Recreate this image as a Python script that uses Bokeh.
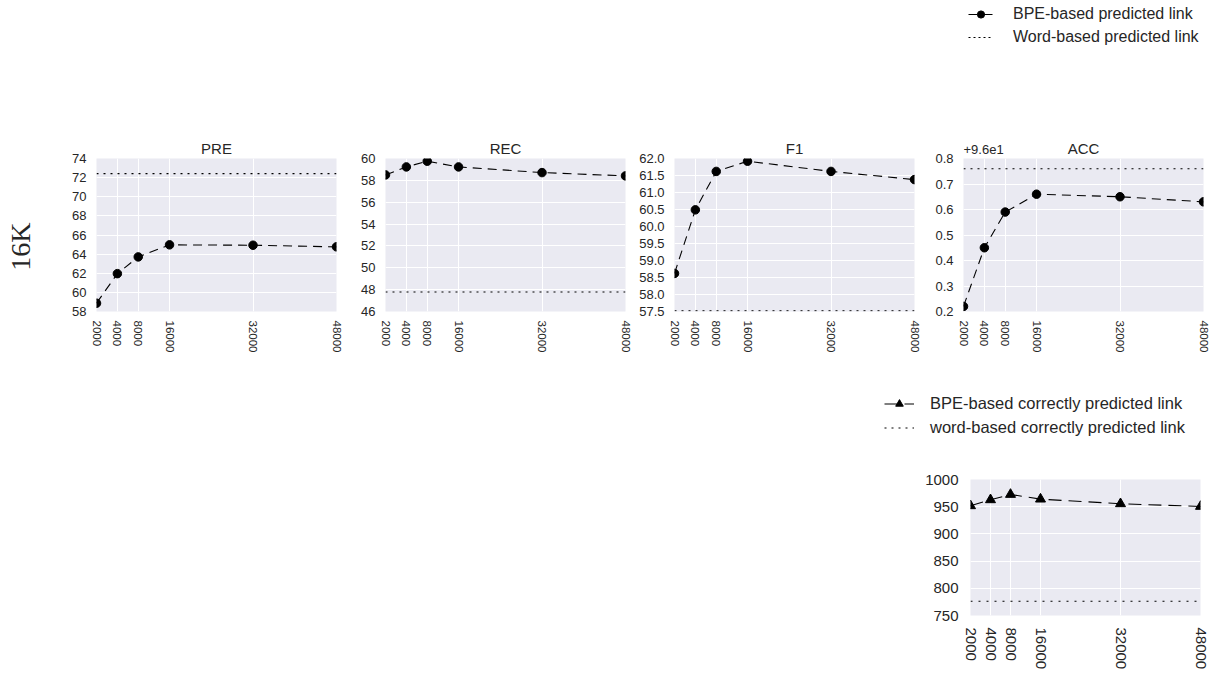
from bokeh.plotting import figure
from bokeh.layouts import column, row, Spacer
from bokeh.models import (Range1d, FixedTicker, CustomJSTickFormatter, Span, Label,
                          Legend, LegendItem)
from bokeh.embed import file_html
from bokeh.resources import INLINE

# ---------------- data ----------------
vocab_sizes = [2000, 4000, 8000, 16000, 32000, 48000]
x_pos = [1, 2, 3, 4.5, 8.5, 12.5]          # position of each vocab size on the x axis

pre_bpe = [58.87, 61.96, 63.71, 64.97, 64.93, 64.76]
pre_word = 72.42
rec_bpe = [58.50, 59.23, 59.75, 59.23, 58.71, 58.41]
rec_word = 47.78
f1_bpe = [58.62, 60.49, 61.62, 61.92, 61.62, 61.38]
f1_word = 57.52
acc_bpe = [96.22, 96.45, 96.59, 96.66, 96.65, 96.63]
acc_word = 96.76
acc_offset = 96
acc_offset_text = "+9.6e1"
links_bpe = [951.7, 962.7, 972.5, 963.9, 955.4, 950.5]
links_word = 776.3

metric_titles = ["PRE", "REC", "F1", "ACC"]
metric_bpe = [pre_bpe, rec_bpe, f1_bpe, acc_bpe]
metric_word = [pre_word, rec_word, f1_word, acc_word]
y_limits = [(58, 74), (46, 60), (57.5, 62.0), (96.2, 96.8)]
y_ticks = [
    [58, 60, 62, 64, 66, 68, 70, 72, 74],
    [46, 48, 50, 52, 54, 56, 58, 60],
    [57.5, 58.0, 58.5, 59.0, 59.5, 60.0, 60.5, 61.0, 61.5, 62.0],
    [96.2, 96.3, 96.4, 96.5, 96.6, 96.7, 96.8],
]
links_limits = (750, 1000)
links_ticks = [750, 800, 850, 900, 950, 1000]

legend_top = ["BPE-based predicted link", "Word-based predicted link"]
legend_bottom = ["BPE-based correctly predicted link", "word-based correctly predicted link"]
row_label = "16K"

# ---------------- style ----------------
BG = "#EAEAF2"
TXT = "#262626"
FONT = "Liberation Sans"
NAN = float("nan")
x_labels = {xp: str(v) for xp, v in zip(x_pos, vocab_sizes)}


def blank_fig(width, height, xr, yr, left=0, right=0):
    p = figure(width=width, height=height, x_range=xr, y_range=yr,
               x_axis_location=None, y_axis_location=None, toolbar_location=None,
               output_backend="svg", min_border_left=left, min_border_right=right,
               min_border_top=0, min_border_bottom=0, outline_line_color=None,
               background_fill_color=None, border_fill_color=None, title=None)
    p.xgrid.visible = False
    p.ygrid.visible = False
    return p


def style_axes(p, tick_size, x_standoff, y_standoff):
    for ax in (p.xaxis[0], p.yaxis[0]):
        ax.axis_line_color = None
        ax.major_tick_line_color = None
        ax.minor_tick_line_color = None
        ax.major_tick_out = 0
        ax.major_tick_in = 0
        ax.major_label_text_color = TXT
        ax.major_label_text_font = FONT
    p.xaxis[0].major_label_text_font_size = tick_size[0]
    p.yaxis[0].major_label_text_font_size = tick_size[1]
    p.xaxis[0].major_label_standoff = x_standoff
    p.yaxis[0].major_label_standoff = y_standoff
    p.xaxis[0].ticker = FixedTicker(ticks=x_pos)
    p.xaxis[0].major_label_overrides = x_labels
    p.xaxis[0].major_label_orientation = "vertical"
    p.xgrid.grid_line_color = "white"
    p.ygrid.grid_line_color = "white"
    p.xgrid.grid_line_width = 1
    p.ygrid.grid_line_width = 1


def metric_fig(i, width, height, left, right, top, with_title=True, **extra):
    lo, hi = y_limits[i]
    p = figure(width=width, height=height,
               x_range=Range1d(x_pos[0], x_pos[-1]), y_range=Range1d(lo, hi),
               output_backend="svg", toolbar_location=None,
               min_border_left=left, min_border_right=right,
               min_border_top=top, min_border_bottom=54,
               background_fill_color=BG,
               outline_line_color=None,
               title=metric_titles[i] if with_title else None, **extra)
    if with_title:
        p.title.align = "center"
        p.title.text_font = FONT
        p.title.text_font_size = "15px"
        p.title.text_font_style = "normal"
        p.title.text_color = TXT
        p.title.standoff = 3
    style_axes(p, ("11.5px", "13px"), 9, 10)
    p.yaxis[0].ticker = FixedTicker(ticks=y_ticks[i])
    if i == 2:
        p.yaxis[0].formatter = CustomJSTickFormatter(code="return tick.toFixed(1)")
    if i == 3:
        p.yaxis[0].formatter = CustomJSTickFormatter(
            args=dict(off=acc_offset), code="return (tick - off).toFixed(1)")
    p.add_layout(Span(location=metric_word[i], dimension="width",
                      line_color="black", line_width=1.1, line_dash="2 5"))
    p.line(x_pos, metric_bpe[i], line_color="black", line_width=1.1, line_dash="9 6")
    p.scatter(x_pos, metric_bpe[i], marker="circle", size=8.5,
              fill_color="black", line_color="black")
    return p


# row label "16K" (panel coordinates in pixels)
f_lab = blank_fig(44, 229, Range1d(0, 44), Range1d(0, 229))
f_lab.add_layout(Label(x=20, y=97, text=row_label, angle=90, angle_units="deg",
                       text_align="center", text_baseline="middle",
                       text_font="Liberation Serif", text_font_size="28px",
                       text_color=TXT))

f_pre = metric_fig(0, 300, 229, 52, 8, 22, border_fill_color="white")
f_rec = metric_fig(1, 289, 229, 41, 8, 22, border_fill_color="white")
f_f1 = metric_fig(2, 289, 229, 41, 8, 22, border_fill_color="white")
# ACC panel overlaps its heading strip slightly (transparent border) so that
# neither the top tick label nor the heading texts are cut
f_acc = metric_fig(3, 289, 216, 41, 8, 9, with_title=False,
                   border_fill_color=None, margin=(-9, 0, 0, 0))

# ACC heading strip with the axis offset text (panel coordinates in pixels)
acc_head = blank_fig(289, 22, Range1d(0, 240), Range1d(0, 22), left=41, right=8)
acc_head.add_layout(Label(x=120, y=10.5, text=metric_titles[3], text_align="center",
                          text_baseline="middle", text_font=FONT,
                          text_font_size="15px", text_color=TXT))
acc_head.add_layout(Label(x=0, y=9.5, text=acc_offset_text, text_align="left",
                          text_baseline="middle", text_font=FONT,
                          text_font_size="13px", text_color=TXT))

# ---------------- top legend ----------------
leg1 = blank_fig(1211, 136, Range1d(0, 1), Range1d(0, 1))
l1 = leg1.line(x=[NAN], y=[NAN], line_color="black", line_width=1.1, line_dash="9 6")
s1 = leg1.scatter(x=[NAN], y=[NAN], marker="circle", size=8.5,
                  fill_color="black", line_color="black")
l2 = leg1.line(x=[NAN], y=[NAN], line_color="black", line_width=1.1, line_dash="2 3")
lg1 = Legend(items=[LegendItem(label=legend_top[0], renderers=[l1, s1]),
                    LegendItem(label=legend_top[1], renderers=[l2])],
             location=(968, 90), orientation="vertical",
             label_text_font=FONT, label_text_font_size="16px", label_text_color=TXT,
             glyph_width=25, glyph_height=18, label_height=18, label_standoff=20,
             spacing=5, padding=0, margin=0, border_line_color=None,
             background_fill_alpha=0)
leg1.add_layout(lg1)

# ---------------- bottom legend ----------------
leg2 = blank_fig(1211, 90, Range1d(0, 1), Range1d(0, 1))
l3 = leg2.line(x=[NAN], y=[NAN], line_color="black", line_width=1.1, line_dash="13 7")
s3 = leg2.scatter(x=[NAN], y=[NAN], marker="triangle", size=10,
                  fill_color="black", line_color="black")
l4 = leg2.line(x=[NAN], y=[NAN], line_color="black", line_width=1.1, line_dash="2 5")
lg2 = Legend(items=[LegendItem(label=legend_bottom[0], renderers=[l3, s3]),
                    LegendItem(label=legend_bottom[1], renderers=[l4])],
             location=(884, 18.5), orientation="vertical",
             label_text_font=FONT, label_text_font_size="16.5px", label_text_color=TXT,
             glyph_width=30, glyph_height=19, label_height=19, label_standoff=16,
             spacing=5, padding=0, margin=0, border_line_color=None,
             background_fill_alpha=0)
leg2.add_layout(lg2)

# ---------------- bottom plot ----------------
fb = figure(width=296, height=218,
            x_range=Range1d(x_pos[0], x_pos[-1]), y_range=Range1d(*links_limits),
            output_backend="svg", toolbar_location=None,
            min_border_left=55, min_border_right=11, min_border_top=24, min_border_bottom=58,
            background_fill_color=BG, border_fill_color="white",
            outline_line_color=None, title=None)
style_axes(fb, ("15px", "15px"), 12, 12)
fb.yaxis[0].ticker = FixedTicker(ticks=links_ticks)
fb.add_layout(Span(location=links_word, dimension="width",
                   line_color="black", line_width=1.1, line_dash="2 6"))
fb.line(x_pos, links_bpe, line_color="black", line_width=1.1, line_dash="13 7")
fb.scatter(x_pos, links_bpe, marker="triangle", size=10,
           fill_color="black", line_color="black")

layout = column(
    leg1,
    row(f_lab, f_pre, f_rec, f_f1, column(acc_head, f_acc, spacing=0), spacing=0),
    leg2,
    row(Spacer(width=915, height=218), fb, spacing=0),
    spacing=0,
)

open("out.html", "w").write(file_html(layout, INLINE))
